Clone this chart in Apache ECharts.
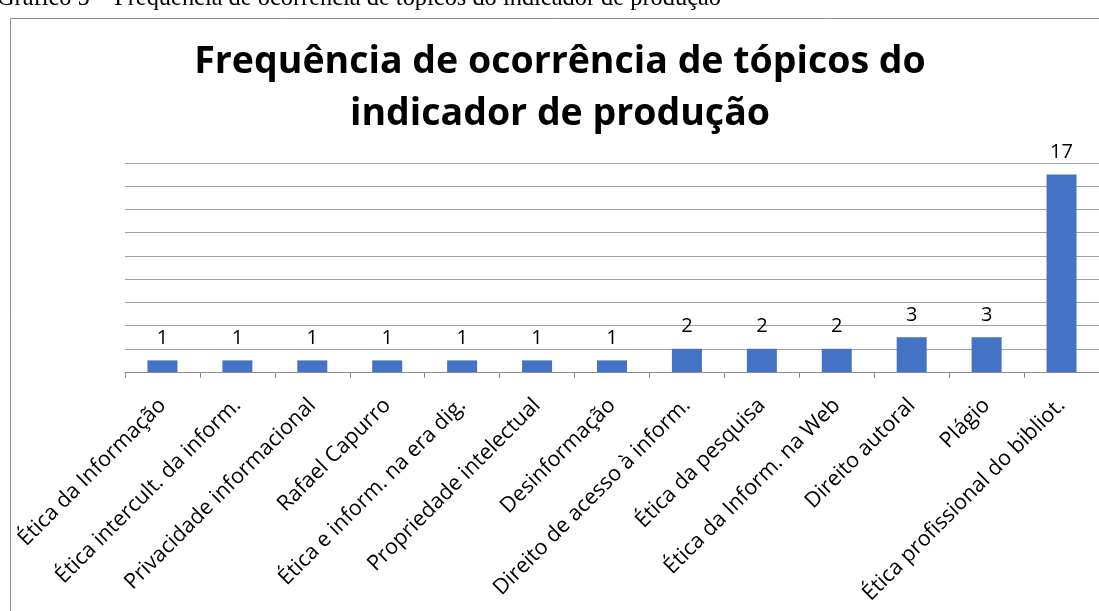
<!DOCTYPE html>
<html>
<head>
<meta charset="utf-8">
<script src="https://cdn.jsdelivr.net/npm/echarts@6/dist/echarts.min.js"></script>
<style>
  html, body { margin: 0; padding: 0; background: #fff; }
  #chart { width: 1099px; height: 611px; }
</style>
</head>
<body>
<div id="chart"></div>
<script>
const categories = [
  "Ética da Informação",
  "Ética intercult. da inform.",
  "Privacidade informacional",
  "Rafael Capurro",
  "Ética e inform. na era dig.",
  "Propriedade intelectual",
  "Desinformação",
  "Direito de acesso à inform.",
  "Ética da pesquisa",
  "Ética da Inform. na Web",
  "Direito autoral",
  "Plágio",
  "Ética profissional do bibliot."
];
const counts = [1, 1, 1, 1, 1, 1, 1, 2, 2, 2, 3, 3, 17];

const chart = echarts.init(document.getElementById("chart"));

const option = {
  backgroundColor: "#fff",
  animation: false,
  textStyle: { fontFamily: "Open Sans" },
  graphic: [
    // figure caption above the frame (clipped at the top)
    {
      type: "text",
      left: -3,
      top: -13,
      style: {
        text: "Gráfico 5 – Frequência de ocorrência de tópicos do indicador de produção",
        font: "24.4px 'Liberation Serif'",
        fill: "#000"
      }
    },
    // chart frame
    {
      type: "rect",
      shape: { x: 10.5, y: 18.5, width: 1200, height: 700 },
      style: { fill: "none", stroke: "#8c8c8c", lineWidth: 1 },
      z: -1
    }
  ],
  title: {
    text: "Frequência de ocorrência de tópicos do\nindicador de produção",
    left: 555,
    textAlign: "center",
    top: 31,
    textStyle: {
      fontFamily: "Open Sans",
      fontWeight: "bold",
      fontSize: 37.5,
      lineHeight: 52,
      color: "#000"
    }
  },
  grid: {
    left: 125,
    right: 0,
    top: 163,
    bottom: 239,
    containLabel: false
  },
  xAxis: {
    type: "category",
    data: categories,
    axisLine: { lineStyle: { color: "#8c8c8c", width: 1 } },
    axisTick: { show: true, length: 6, lineStyle: { color: "#8c8c8c" } },
    axisLabel: {
      rotate: 45,
      interval: 0,
      fontSize: 21.5,
      color: "#000",
      margin: 30
    }
  },
  yAxis: {
    type: "value",
    min: 0,
    max: 18,
    interval: 2,
    axisLine: { show: false },
    axisTick: { show: false },
    axisLabel: { show: false },
    splitLine: { lineStyle: { color: "#a0a0a0", width: 1 } }
  },
  series: [
    {
      type: "bar",
      data: counts,
      barWidth: 30,
      itemStyle: { color: "#4472C4" },
      label: {
        show: true,
        position: "top",
        distance: 12,
        fontSize: 20,
        color: "#000"
      }
    }
  ]
};

chart.setOption(option);
</script>
</body>
</html>
